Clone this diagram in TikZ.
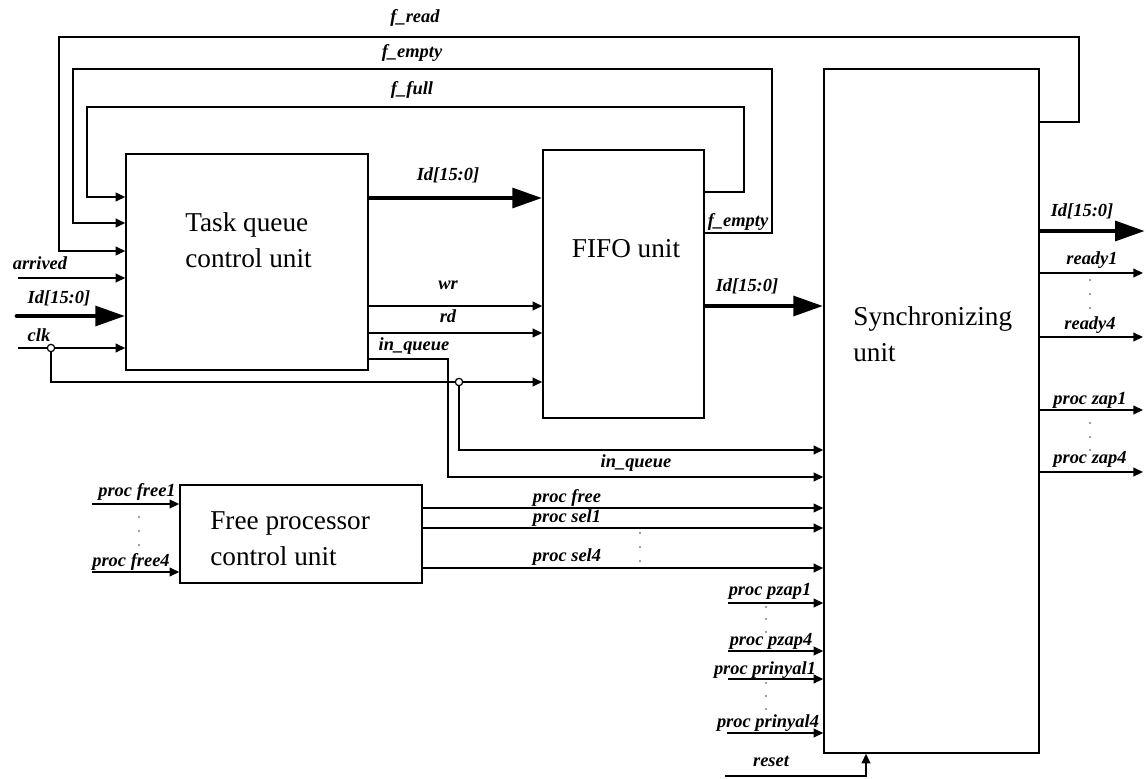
\documentclass[tikz,border=0pt]{standalone}
\usepackage{fontspec}
\setmainfont{Liberation Serif}
\usepackage{tikz}
\usetikzlibrary{arrows.meta}
\tikzset{%
  block/.style    = {draw, line width=0.9pt, rectangle, inner sep=0pt},
  unitname/.style = {font=\fontsize{15.5}{20.5}\selectfont, align=left, inner sep=0pt},
  wire/.style     = {line width=0.85pt},
  sig/.style      = {wire, -{Triangle[length=5.5pt,width=5pt]}}, % single line
  bus/.style      = {line width=2.8pt, -{Triangle[length=17pt,width=11pt]}}, % Id[15:0]
  lbl/.style      = {font=\fontsize{10.5}{12}\selectfont\bfseries\itshape, inner sep=0pt,
    text height=7pt, text depth=2pt},
  tap/.style      = {draw, circle, fill=white, line width=0.7pt, inner sep=0pt, minimum size=4.2pt}
}

\begin{document}
\begin{tikzpicture}[x=0.02cm, y=-0.02cm]
\useasboundingbox (0,0) rectangle (1146,778);
\draw
	node at(247,262)[block, name=tq, minimum width=4.84cm, minimum height=4.32cm]{}
	node at(623.5,284)[block, name=fifo, minimum width=3.22cm, minimum height=5.36cm]{}
	node at(931.5,411)[block, name=sync, minimum width=4.30cm, minimum height=13.68cm]{}
	node at(301,534)[block, name=fpc, minimum width=4.84cm, minimum height=1.96cm]{};
\node[unitname, anchor=west] (tqname) at (185,240) {Task queue\\control unit};
\node[unitname] (fifoname) at (626,249) {FIFO unit};
\node[unitname, anchor=west] (syncname) at (853,334) {Synchronizing\\unit};
\node[unitname, anchor=west] (fpcname) at (210,539) {Free processor\\control unit};

% flags back to the task queue
\draw[sig] (sync.east |- 0,122) -| (1079,37) -| (59,251) -- (tq.west |- 0,251);
\draw[sig] (fifo.east |- 0,233) -| (772,69) -| (73,223) -- (tq.west |- 0,223);
\draw[sig] (fifo.east |- 0,192) -| (744,107) -| (87,197) -- (tq.west |- 0,197);
\node[lbl] (lread) at (415,18) {f\_read};
\node[lbl] (lempty) at (412,53) {f\_empty};
\node[lbl] (lfull) at (412,90) {f\_full};
\node[lbl] (lempty2) at (738,222) {f\_empty};

% task queue inputs
\coordinate (arrivedIn) at (18,278);
\coordinate (idIn) at (17,316);
\coordinate (clkIn) at (18,348);
\coordinate (clkA) at (51,348);
\coordinate (clkB) at (459,382);
\draw[sig] (arrivedIn) -- (tq.west |- arrivedIn);
\draw[bus, line cap=round] (idIn) -- (tq.west |- idIn);
\draw[sig] (clkIn) -- (tq.west |- clkIn);
\draw[sig] (clkA) |- (fifo.west |- clkB);
\draw[sig] (clkB) |- (sync.west |- 0,450);
\node[lbl] (larrived) at (40,265) {arrived};
\node[lbl] (lidin) at (59,299) {Id[15:0]};
\node[lbl] (lclk) at (39,337) {clk};

% task queue -> fifo
\draw[bus] (tq.east |- 0,198) -- (fifo.west |- 0,198);
\draw[sig] (tq.east |- 0,306) -- (fifo.west |- 0,306);
\draw[sig] (tq.east |- 0,333) -- (fifo.west |- 0,333);
\draw[sig] (tq.east |- 0,359) -| (448,477) -- (sync.west |- 0,477);
\node[lbl] (lidtq) at (448,176) {Id[15:0]};
\node[lbl] (lwr) at (448,285) {wr};
\node[lbl] (lrd) at (448,318) {rd};
\node[lbl] (linq) at (414,346) {in\_queue};
\node[lbl] (linq2) at (636,463) {in\_queue};

% fifo -> synchronizing unit
\draw[bus] (fifo.east |- 0,306) -- (sync.west |- 0,306);
\node[lbl] (lidfifo) at (747,287) {Id[15:0]};

% free processor control unit
\coordinate (free1In) at (92,504);
\coordinate (free4In) at (92,572);
\draw[sig] (free1In) -- (fpc.west |- free1In);
\draw[sig] (free4In) -- (fpc.west |- free4In);
\node[lbl] (lfree1) at (137,492) {proc free1};
\node[lbl] (lfree4) at (131,562) {proc free4};
\fill[gray] (139,517) circle (0.6pt) (139,531) circle (0.6pt) (139,545) circle (0.6pt);
\draw[sig] (fpc.east |- 0,508) -- (sync.west |- 0,508);
\draw[sig] (fpc.east |- 0,528) -- (sync.west |- 0,528);
\draw[sig] (fpc.east |- 0,568) -- (sync.west |- 0,568);
\node[lbl] (lfree) at (567,498) {proc free};
\node[lbl] (lsel1) at (567,518) {proc sel1};
\node[lbl] (lsel4) at (567,557) {proc sel4};
\fill[gray] (640,533) circle (0.6pt) (640,547) circle (0.6pt) (640,561) circle (0.6pt);

% other inputs of the synchronizing unit
\coordinate (pzap1In) at (728,603);
\coordinate (pzap4In) at (728,651);
\coordinate (prin1In) at (728,679);
\coordinate (prin4In) at (727,733);
\coordinate (resetIn) at (725,776);
\draw[sig] (pzap1In) -- (sync.west |- pzap1In);
\draw[sig] (pzap4In) -- (sync.west |- pzap4In);
\draw[sig] (prin1In) -- (sync.west |- prin1In);
\draw[sig] (prin4In) -- (sync.west |- prin4In);
\draw[sig] (resetIn) -| (sync.south -| 866,0);
\node[lbl] (lpzap1) at (770,591) {proc pzap1};
\node[lbl] (lpzap4) at (771,641) {proc pzap4};
\node[lbl] (lprin1) at (765,670) {proc prinyal1};
\node[lbl] (lprin4) at (768,723) {proc prinyal4};
\node[lbl] (lreset) at (771,762) {reset};
\fill[gray] (766,607) circle (0.6pt) (766,619) circle (0.6pt) (766,632) circle (0.6pt);
\fill[gray] (766,683) circle (0.6pt) (766,696) circle (0.6pt) (766,709) circle (0.6pt);

% outputs
\coordinate (idOut) at (1145,231);
\coordinate (ready1Out) at (1143,273);
\coordinate (ready4Out) at (1143,337);
\coordinate (zap1Out) at (1143,410);
\coordinate (zap4Out) at (1143,472);
\draw[bus] (sync.east |- idOut) -- (idOut);
\draw[sig] (sync.east |- ready1Out) -- (ready1Out);
\draw[sig] (sync.east |- ready4Out) -- (ready4Out);
\draw[sig] (sync.east |- zap1Out) -- (zap1Out);
\draw[sig] (sync.east |- zap4Out) -- (zap4Out);
\node[lbl] (lidout) at (1082,212) {Id[15:0]};
\node[lbl] (lready1) at (1092,260) {ready1};
\node[lbl] (lready4) at (1090,325) {ready4};
\node[lbl] (lzap1) at (1090,400) {proc zap1};
\node[lbl] (lzap4) at (1090,459) {proc zap4};
\fill[gray] (1090,280) circle (0.6pt) (1090,294) circle (0.6pt) (1090,308) circle (0.6pt);
\fill[gray] (1090,423) circle (0.6pt) (1090,437) circle (0.6pt) (1090,450) circle (0.6pt);

% clock branch points
\node[tap] (clkAdot) at (clkA) {};
\node[tap] (clkBdot) at (clkB) {};
\end{tikzpicture}
\end{document}
